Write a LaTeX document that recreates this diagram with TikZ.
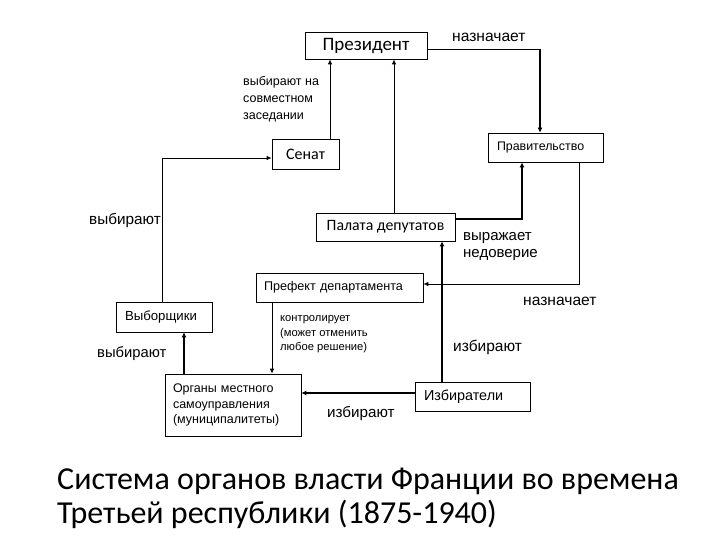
\documentclass[tikz,border=0pt]{standalone}
\usepackage{fontspec}
\setmainfont{Liberation Sans}
\newfontfamily\calfont{Carlito}
\usetikzlibrary{arrows.meta,calc}
\tikzset{
  bx/.style={draw, line width=0.7pt, inner sep=0pt},
  lbx/.style={draw, line width=0.7pt, inner ysep=0pt, inner xsep=#1, align=left},
  lbl/.style={anchor=base west, inner sep=0pt, align=left},
  arr/.style={line width=0.8pt, -{Latex[length=5pt,width=4.5pt]}},
  tarr/.style={line width=2pt, -{Latex[length=5pt,width=5pt]}},
  thin line/.style={line width=0.8pt}
}
\newcommand{\fs}[2]{\fontsize{#1}{#2}\selectfont}
\begin{document}
\begin{tikzpicture}[x=1pt,y=-1pt]
\useasboundingbox (0,0) rectangle (720,540);
\fill[white] (0,0) rectangle (720,540);

% boxes
\node[bx, minimum width=122pt, minimum height=27pt, font=\calfont\fs{19}{21}] (pres) at (366,45.5) {Президент};
\node[bx, minimum width=67pt, minimum height=30pt, font=\calfont\fs{16}{20}] (senat) at (305.5,154) {Сенат};
\node[bx, minimum width=139pt, minimum height=28pt, font=\calfont\fs{15.8}{18}] (palata) at (385.5,227) {Палата депутатов};
\node[lbx=9pt, text width=97pt, minimum height=29pt, font=\fs{12.4}{14}] (prav) at (545.5,147.5) {Правительство};
\node[lbx=8pt, text width=151pt, minimum height=29pt, font=\fs{12.6}{14}] (prefect) at (339.5,287.5) {Префект департамента};
\node[lbx=9pt, text width=78pt, minimum height=30pt, font=\fs{13.2}{15}] (vyb) at (164,317) {Выборщики};
\node[lbx=8pt, text width=120pt, minimum height=62pt, font=\fs{12.5}{15.7}] (organy) at (233,405) {Органы местного\\самоуправления\\(муниципалитеты)};
\node[lbx=9pt, text width=97pt, minimum height=29pt, font=\fs{14.4}{17}] (izbir) at (472.5,396.5) {Избиратели};

% attach points
\coordinate (c1) at (540,49);
\coordinate (s1) at ([xshift=24.5pt]senat.north);
\coordinate (p1) at ([xshift=8.5pt]palata.north);
\coordinate (v1) at ([xshift=-2pt]vyb.north);
\coordinate (i1) at ([xshift=-30.5pt]izbir.north);
\coordinate (i2) at ([yshift=3.5pt]izbir.west);
\coordinate (f1) at ([xshift=-67.5pt]prefect.south);
\coordinate (o1) at ([xshift=-49pt]organy.north);

% connectors
\draw[thin line] ([yshift=-3.5pt]pres.east) -- (c1);
\draw[tarr] (c1) -- (c1 |- prav.north);
\draw[arr] (s1) -- (s1 |- pres.south);
\draw[arr] (p1) -- (p1 |- pres.south);
\draw[arr] (v1) |- ([yshift=-4pt]senat.west);
\draw[tarr] ([yshift=8pt]palata.east) -| ([xshift=-23.5pt]prav.south);
\draw[arr] ([xshift=33.5pt]prav.south) |- ([yshift=3.5pt]prefect.east);
\draw[tarr] (i1) -- (i1 |- palata.south);
\draw[tarr] (i2) -- (i2 -| organy.east);
\draw[arr] (f1) -- (f1 |- organy.north);
\draw[tarr] (o1) -- (o1 |- vyb.south);

% labels (multi-line labels are anchored at the baseline of their last line)
\node[lbl, font=\fs{15.6}{17}] (l1) at (452,42) {назначает};
\node[lbl, font=\fs{12.5}{17}] (l2) at (243,119.5) {выбирают на\\совместном\\заседании};
\node[lbl, font=\fs{15.3}{17}] (l3) at (89,225) {выбирают};
\node[lbl, font=\fs{15}{17.5}] (l4) at (463,258) {выражает\\недоверие};
\node[lbl, font=\fs{15.6}{17}] (l5) at (523,305) {назначает};
\node[lbl, font=\fs{11.2}{14.5}] (l6) at (280,350.5) {контролирует\\(может отменить\\любое решение)};
\node[lbl, font=\fs{14.8}{17}] (l7) at (97,357.5) {выбирают};
\node[lbl, font=\fs{15.5}{17}] (l8) at (453,351.5) {избирают};
\node[lbl, font=\fs{15.2}{17}] (l9) at (327,417) {избирают};
\node[lbl, font=\calfont\fs{32}{34}] (title) at (57,523) {Система органов власти Франции во времена\\Третьей республики (1875-1940)};
\end{tikzpicture}
\end{document}
